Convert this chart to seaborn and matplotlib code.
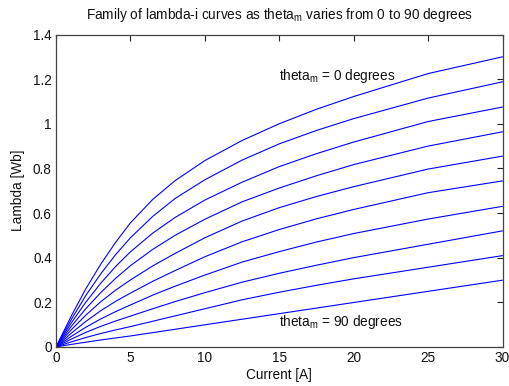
import numpy as np
import pandas as pd
import matplotlib
matplotlib.use("Agg")
import matplotlib.pyplot as plt
import seaborn as sns

current = [0, 1, 2, 3, 4, 5, 6.5, 8, 10, 12.5, 15, 17.5, 20, 25, 30]

# theta_m in degrees, one curve each
thetas = [0, 10, 20, 30, 40, 50, 60, 70, 80, 90]

lam_0 = [0, 0.135, 0.26, 0.37, 0.468, 0.556, 0.661, 0.745, 0.835, 0.925, 1.0, 1.065, 1.122, 1.225, 1.30]
lam_10 = [0, 0.12, 0.23, 0.327, 0.413, 0.489, 0.585, 0.665, 0.749, 0.837, 0.91, 0.97, 1.023, 1.115, 1.188]
lam_20 = [0, 0.105, 0.2, 0.285, 0.36, 0.426, 0.51, 0.58, 0.658, 0.738, 0.808, 0.866, 0.918, 1.01, 1.075]
lam_30 = [0, 0.09, 0.171, 0.243, 0.307, 0.364, 0.437, 0.50, 0.572, 0.65, 0.712, 0.767, 0.817, 0.90, 0.964]
lam_40 = [0, 0.075, 0.142, 0.202, 0.254, 0.30, 0.363, 0.419, 0.489, 0.564, 0.624, 0.674, 0.718, 0.797, 0.855]
lam_50 = [0, 0.06, 0.114, 0.162, 0.204, 0.241, 0.294, 0.342, 0.404, 0.471, 0.526, 0.574, 0.616, 0.691, 0.744]
lam_60 = [0, 0.046, 0.088, 0.125, 0.158, 0.188, 0.232, 0.272, 0.322, 0.38, 0.427, 0.47, 0.508, 0.573, 0.63]
lam_70 = [0, 0.034, 0.065, 0.092, 0.116, 0.138, 0.171, 0.203, 0.243, 0.29, 0.33, 0.366, 0.40, 0.46, 0.52]
lam_80 = [0, 0.022, 0.042, 0.06, 0.076, 0.091, 0.115, 0.139, 0.171, 0.211, 0.245, 0.276, 0.305, 0.357, 0.409]
lam_90 = [0, 0.011, 0.021, 0.031, 0.04, 0.049, 0.064, 0.079, 0.099, 0.124, 0.149, 0.174, 0.199, 0.249, 0.299]

curves = [lam_0, lam_10, lam_20, lam_30, lam_40, lam_50, lam_60, lam_70, lam_80, lam_90]

# long-form table for seaborn
rows = []
for th, lam in zip(thetas, curves):
    for i, l in zip(current, lam):
        rows.append({"theta": th, "current": i, "lambda": l})
df = pd.DataFrame(rows)

sns.set_theme(style="white")
plt.rcParams["font.family"] = ["Liberation Sans", "DejaVu Sans"]
plt.rcParams["mathtext.default"] = "regular"
plt.rcParams["text.color"] = "#111111"
plt.rcParams["axes.labelcolor"] = "#111111"

fs = 9.8

fig = plt.figure(figsize=(5.10, 3.86), dpi=100)
fig.patch.set_facecolor("white")
ax = fig.add_axes([0.1098, 0.1013, 0.8755, 0.8093])

sns.lineplot(data=df, x="current", y="lambda", hue="theta",
             palette=["#0000ff"] * len(thetas), linewidth=0.8,
             legend=False, ax=ax)

ax.set_xlim(0, 30)
ax.set_ylim(0, 1.4)
ax.set_xticks([0, 5, 10, 15, 20, 25, 30])
ax.set_yticks([0, 0.2, 0.4, 0.6, 0.8, 1.0, 1.2, 1.4])
ax.set_yticklabels(["0", "0.2", "0.4", "0.6", "0.8", "1", "1.2", "1.4"])

ax.tick_params(direction="in", length=4, width=0.8, colors="#222222",
               labelcolor="#111111", labelsize=fs, top=True, right=True, pad=3)
for s in ax.spines.values():
    s.set_visible(True)
    s.set_color("#444444")
    s.set_linewidth(0.9)

ax.set_xlabel("Current [A]", fontsize=fs, labelpad=2)
ax.set_ylabel("Lambda [Wb]", fontsize=fs, labelpad=6)
ax.set_title("Family of lambda-i curves as theta$_m$ varies from 0 to 90 degrees",
             fontsize=fs, pad=11)

ax.text(15, 1.215, "theta$_m$ = 0 degrees", fontsize=fs, va="center")
ax.text(15, 0.11, "theta$_m$ = 90 degrees", fontsize=fs, va="center")

plt.savefig("out.png", dpi=100)
